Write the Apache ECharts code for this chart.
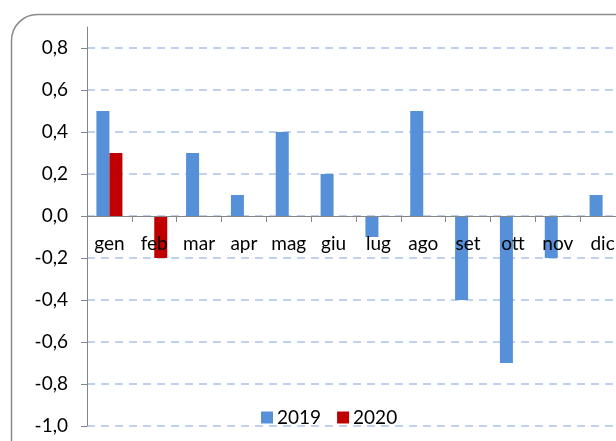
<!DOCTYPE html>
<html><head><meta charset="utf-8">
<script src="https://cdn.jsdelivr.net/npm/echarts@6/dist/echarts.min.js"></script>
<style>html,body{margin:0;padding:0;background:#fff}#c{width:616px;height:441px}</style>
</head><body><div id="c"></div>
<script>
const categories = ['gen','feb','mar','apr','mag','giu','lug','ago','set','ott','nov','dic'];
const s2019 = [0.5, null, 0.3, 0.1, 0.4, 0.2, -0.1, 0.5, -0.4, -0.7, -0.2, 0.1];
const s2020 = [0.3, -0.2, null, null, null, null, null, null, null, null, null, null];
const yTicks = [-1.0, -0.8, -0.6, -0.4, -0.2, 0.0, 0.2, 0.4, 0.6, 0.8];

const FONT = 'Lato';
const chart = echarts.init(document.getElementById('c'));
chart.setOption({
  animation: false,
  backgroundColor: '#fff',
  graphic: [{
    type: 'rect', z: 0,
    shape: {x: 11.5, y: 14.5, width: 640, height: 460, r: 26},
    style: {fill: 'none', stroke: '#8a8a8a', lineWidth: 1.5}
  }],
  grid: {left: 87, top: 27, right: -9, bottom: 15, containLabel: false, outerBoundsMode: 'none'},
  legend: {
    top: 403, left: 256,
    itemWidth: 12, itemHeight: 12, itemGap: 16,
    icon: 'rect',
    textStyle: {fontFamily: FONT, fontSize: 19, color: '#000', padding: [0,0,0,-1]},
    data: ['2019', '2020']
  },
  xAxis: {
    type: 'category',
    data: categories,
    z: 5,
    offset: -210,
    axisLine: {onZero: false, lineStyle: {color: '#868686', width: 1}},
    axisTick: {show: true, length: 6, alignWithLabel: false, lineStyle: {color: '#868686'}},
    axisLabel: {fontFamily: FONT, fontSize: 19, color: '#000', margin: 18, interval: 0}
  },
  yAxis: {
    type: 'value',
    min: -1.0, max: 0.9, interval: 0.2,
    axisLine: {show: true, lineStyle: {color: '#868686', width: 1}},
    axisTick: {show: true, length: 6, lineStyle: {color: '#868686'}, customValues: yTicks},
    axisLabel: {
      fontFamily: FONT, fontSize: 19, color: '#000', margin: 19,
      customValues: yTicks,
      formatter: v => (Math.round(v * 10) / 10).toFixed(1).replace('.', ',')
    },
    splitLine: {show: true, lineStyle: {color: '#adc4ec', type: [8, 6], width: 1.5}}
  },
  series: [
    {name: '2019', type: 'bar', data: s2019, barWidth: 13, barGap: '0%',
     itemStyle: {color: '#5590d8'}},
    {name: '2020', type: 'bar', data: s2020, barWidth: 13,
     itemStyle: {color: '#c00000'}}
  ]
});
</script></body></html>
